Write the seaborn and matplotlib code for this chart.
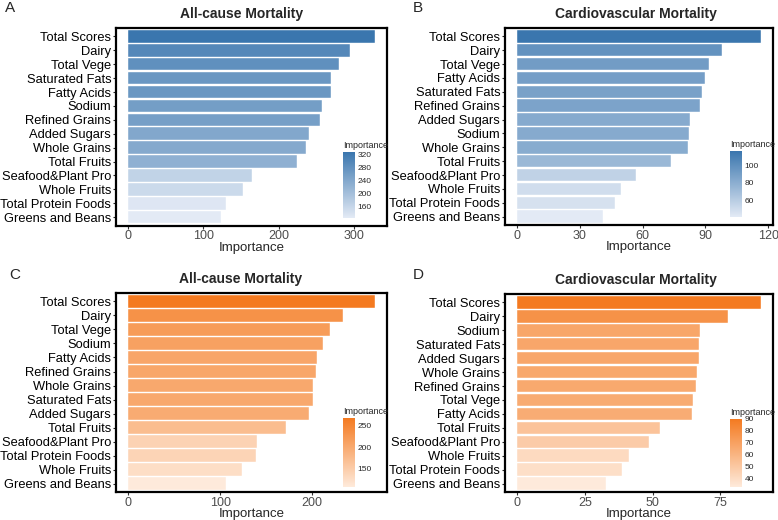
import numpy as np
import pandas as pd
import seaborn as sns
import matplotlib
matplotlib.use("Agg")
import matplotlib.pyplot as plt
from matplotlib.colors import LinearSegmentedColormap, Normalize
from matplotlib.cm import ScalarMappable

sns.set_style("white")
plt.rcParams['font.family'] = ['Liberation Sans', 'DejaVu Sans']

# Panel A - all-cause mortality (blue)
cats_a = ["Total Scores", "Dairy", "Total Vege", "Saturated Fats", "Fatty Acids", "Sodium",
          "Refined Grains", "Added Sugars", "Whole Grains", "Total Fruits",
          "Seafood&Plant Pro", "Whole Fruits", "Total Protein Foods", "Greens and Beans"]
vals_a = [328, 295.5, 281, 270, 269.5, 258.5, 255, 241, 237, 225, 165, 153, 130, 123.5]

# Panel B - cardiovascular mortality (blue)
cats_b = ["Total Scores", "Dairy", "Total Vege", "Fatty Acids", "Saturated Fats", "Refined Grains",
          "Added Sugars", "Sodium", "Whole Grains", "Total Fruits",
          "Seafood&Plant Pro", "Whole Fruits", "Total Protein Foods", "Greens and Beans"]
vals_b = [116.5, 98, 91.6, 90, 88.4, 87.3, 82.6, 82.3, 81.5, 73.5, 56.7, 49.8, 47, 41]

# Panel C - all-cause mortality (orange)
cats_c = ["Total Scores", "Dairy", "Total Vege", "Sodium", "Fatty Acids", "Refined Grains",
          "Whole Grains", "Saturated Fats", "Added Sugars", "Total Fruits",
          "Seafood&Plant Pro", "Total Protein Foods", "Whole Fruits", "Greens and Beans"]
vals_c = [268.5, 233.8, 219.3, 212, 205.5, 204.4, 201.8, 201.5, 197, 171.6, 140.4, 139, 124, 106]

# Panel D - cardiovascular mortality (orange)
cats_d = ["Total Scores", "Dairy", "Sodium", "Saturated Fats", "Added Sugars", "Whole Grains",
          "Refined Grains", "Total Vege", "Fatty Acids", "Total Fruits",
          "Seafood&Plant Pro", "Whole Fruits", "Total Protein Foods", "Greens and Beans"]
vals_d = [90, 77.7, 67.6, 67.3, 67.3, 66.6, 66, 64.9, 64.5, 52.9, 48.7, 41.2, 38.8, 32.9]

titles = ["All-cause Mortality", "Cardiovascular Mortality",
          "All-cause Mortality", "Cardiovascular Mortality"]
letters = ["A", "B", "C", "D"]
xticks = [[0, 100, 200, 300], [0, 30, 60, 90, 120], [0, 100, 200], [0, 25, 50, 75]]
cbticks = [[160, 200, 240, 280, 320], [60, 80, 100], [150, 200, 250], [40, 50, 60, 70, 80, 90]]

blue = LinearSegmentedColormap.from_list("blue", ["#E3EAF5", "#3A76AE"])
orange = LinearSegmentedColormap.from_list("orange", ["#FEEADB", "#F47A20"])

fig = plt.figure(figsize=(7.78, 5.2), dpi=100)

ax_pos = [[0.1491, 0.5663, 0.3483, 0.3798], [0.6491, 0.5673, 0.3445, 0.3788],
          [0.1491, 0.0538, 0.3483, 0.3827], [0.6491, 0.0538, 0.3445, 0.3808]]
cb_pos = [[0.4409, 0.5808, 0.0154, 0.1269], [0.9380, 0.5827, 0.0154, 0.1269],
          [0.4409, 0.0635, 0.0154, 0.1327], [0.9380, 0.0635, 0.0154, 0.1308]]
title_x = [0.465, 0.49, 0.46, 0.49]
letter_xy = [(0.006, 0.998), (0.531, 0.998), (0.012, 0.485), (0.531, 0.485)]

panels = [(cats_a, vals_a, blue), (cats_b, vals_b, blue),
          (cats_c, vals_c, orange), (cats_d, vals_d, orange)]

for i, (cats, vals, cmap) in enumerate(panels):
    ax = fig.add_axes(ax_pos[i])
    df = pd.DataFrame({"Feature": cats, "Importance": vals})
    norm = Normalize(vmin=min(vals), vmax=max(vals))
    pal = {c: cmap(norm(v)) for c, v in zip(cats, vals)}
    sns.barplot(data=df, x="Importance", y="Feature", hue="Feature", palette=pal,
                legend=False, width=0.9, saturation=1, ax=ax, edgecolor="white", linewidth=0.3)
    vmax = max(vals)
    ax.set_xlim(-0.05 * vmax, 1.05 * vmax)
    ax.set_ylim(len(cats) - 1 + 0.6, -0.6)
    ax.set_xticks(xticks[i])
    ax.tick_params(axis="x", labelsize=9, length=2.5, width=0.8,
                   pad=1, bottom=True, colors="#333333")
    ax.tick_params(axis="y", labelsize=9.3, labelcolor="black", length=2.5, width=0.8,
                   pad=1, left=True)
    for lab in ax.get_xticklabels():
        lab.set_color("#4D4D4D")
    ax.set_ylabel("")
    ax.set_xlabel("Importance", fontsize=9.5, labelpad=-0.5)
    for s in ax.spines.values():
        s.set_visible(True)
        s.set_color("black")
        s.set_linewidth(1.6)
    ax.text(title_x[i], 1.035, titles[i], transform=ax.transAxes, ha="center", va="bottom",
            fontsize=10, fontweight="bold")
    fig.text(letter_xy[i][0], letter_xy[i][1], letters[i], ha="left", va="top", fontsize=11)

    # colorbar inside the panel
    cax = fig.add_axes(cb_pos[i])
    sm = ScalarMappable(norm=norm, cmap=cmap)
    cb = fig.colorbar(sm, cax=cax, ticks=cbticks[i])
    cb.outline.set_visible(False)
    cax.tick_params(axis="y", direction="in", length=2.5, width=0.6, color="white",
                    labelsize=6, pad=2, left=True, right=True)
    cax.set_title("Importance", fontsize=6.5, loc="left", pad=3, x=0.0)

fig.savefig("out.png", dpi=100)
